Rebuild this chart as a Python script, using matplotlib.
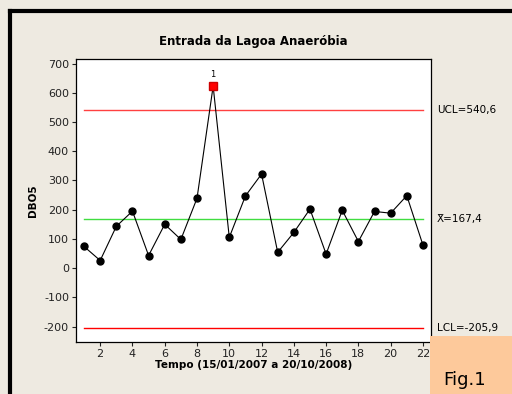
import matplotlib.pyplot as plt
from matplotlib.patches import Rectangle

# observações (DBO5) por amostra
samples = list(range(1, 23))
dbo5 = [74, 26, 143, 195, 43, 150, 98, 239, 623, 105, 247,
        322, 54, 122, 202, 48, 198, 91, 194, 188, 248, 79]
ucl = 540.6
mean = 167.4
lcl = -205.9
out_idx = [8]  # ponto fora de controle (amostra 9)

bg = '#eeeae1'
plt.rcParams['font.family'] = ['DejaVu Sans']
plt.rcParams['axes.unicode_minus'] = False
fig = plt.figure(figsize=(5.12, 3.94), dpi=100, facecolor=bg)

ax = fig.add_axes([0.1484, 0.132, 0.6934, 0.7183])
ax.set_facecolor('white')

ok_idx = [i for i in range(len(samples)) if i not in out_idx]
ax.plot(samples, dbo5, color='black', lw=0.8, zorder=3)
ax.plot([samples[i] for i in ok_idx], [dbo5[i] for i in ok_idx], ls='none',
        marker='o', ms=5, color='black', zorder=4)
for i in out_idx:
    ax.plot(samples[i], dbo5[i], marker='s', color='red', mec='#cc0000', ms=5.5, ls='none', zorder=5)
    ax.text(samples[i], dbo5[i] + 25, '1', ha='center', va='bottom', fontsize=6)

ax.plot([samples[0], samples[-1]], [ucl, ucl], color='#ff4040', lw=1, zorder=2)
ax.plot([samples[0], samples[-1]], [mean, mean], color='#40dd40', lw=1, zorder=2)
ax.plot([samples[0], samples[-1]], [lcl, lcl], color='red', lw=1, zorder=2)

ax.set_xlim(0.5, 22.5)
ax.set_ylim(-253, 716)
ax.set_xticks(range(2, 23, 2))
ax.set_yticks(range(-200, 701, 100))
ax.tick_params(labelsize=8, length=3, width=0.8, pad=2, colors='#222222')
for s in ax.spines.values():
    s.set_linewidth(0.9)

ax.set_xlabel('Tempo (15/01/2007 a 20/10/2008)', fontsize=7.5, fontweight='bold', labelpad=1)
ax.set_ylabel('DBO5', fontsize=7.5, fontweight='bold', labelpad=4)
ax.set_title('Entrada da Lagoa Anaeróbia', fontsize=8.5, fontweight='bold', pad=10)

tr = ax.get_yaxis_transform()
ax.text(1.017, ucl, 'UCL=540,6', transform=tr, fontsize=7.5, va='center', clip_on=False)
ax.text(1.017, mean, 'X\u0304=167,4', transform=tr, fontsize=7.5, va='center', clip_on=False)
ax.text(1.017, lcl, 'LCL=-205,9', transform=tr, fontsize=7.5, va='center', clip_on=False)

# moldura preta superior e esquerda
fig.add_artist(plt.Line2D([10 / 512, 10 / 512], [0, 1 - 11 / 394], color='black', lw=3,
                          transform=fig.transFigure))
fig.add_artist(plt.Line2D([10 / 512, 1], [1 - 11 / 394, 1 - 11 / 394], color='black', lw=3,
                          transform=fig.transFigure))

# caixa "Fig.1"
fig.add_artist(Rectangle((430 / 512, 0), 82 / 512, 58 / 394, transform=fig.transFigure,
                         facecolor='#fdc99b', edgecolor='none', zorder=10))
fig.text(465 / 512, 14 / 394, 'Fig.1', fontsize=13, ha='center', va='center', zorder=11)

fig.savefig('out.png', dpi=100, facecolor=bg)
